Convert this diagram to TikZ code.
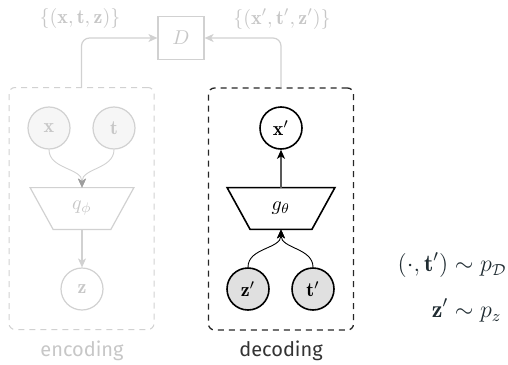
\documentclass[tikz,border=0pt]{standalone}
\usepackage{amsmath}
\usepackage{fontspec}
\newfontfamily\labelfont{Fira Sans}
\usetikzlibrary{arrows.meta,calc}
\definecolor{faded}{gray}{0.82}
\definecolor{fadedtext}{gray}{0.78}
\definecolor{fadedfill}{gray}{0.965}
\definecolor{fadedtip}{gray}{0.62}
\definecolor{latentfill}{gray}{0.88}
\definecolor{eqcolor}{RGB}{32,44,50}
\begin{document}
\begin{tikzpicture}[x=0.5pt,y=-0.5pt,
  tip/.style={-{Stealth[length=4.5pt,width=4pt,inset=1.2pt]}},
  varnode/.style={circle,minimum size=21pt,inner sep=0pt},
  stagebox/.style={rectangle,rounded corners=3pt,dashed,dash pattern=on 3pt off 2.5pt,minimum width=72.5pt,minimum height=121pt},
  netcore/.style={rectangle,inner sep=0pt,minimum height=20.5pt},
  caption/.style={font=\labelfont}]
\useasboundingbox (0,0) rectangle (508,364);

% discriminator and the two sets of triples
\node[draw=faded,line width=0.6pt,minimum width=23pt,minimum height=21.5pt,inner sep=0pt,text=fadedtext] (D) at (181,38) {$D$};
\node[text=fadedtext] (realset) at (80,19) {$\{(\mathbf{x},\mathbf{t},\mathbf{z})\}$};
\node[text=fadedtext] (fakeset) at (282,19) {$\{(\mathbf{x}',\mathbf{t}',\mathbf{z}')\}$};

% encoding stage (faded)
\node[stagebox,draw=faded,line width=0.5pt] (enc) at (81.5,208.5) {};
\node[varnode,draw=faded,fill=fadedfill,line width=0.6pt,text=fadedtext] (x) at (49,128) {$\mathbf{x}$};
\node[varnode,draw=faded,fill=fadedfill,line width=0.6pt,text=fadedtext] (t) at (114,128) {$\mathbf{t}$};
\node[netcore,minimum width=28.5pt,text=fadedtext] (q) at (82,208.5) {$q_\phi$};
\draw[faded,line width=0.6pt] (q.south west) -- (q.south east) -- ($(q.north east)+(23,0)$) -- ($(q.north west)+(-23,0)$) -- cycle;
\node[varnode,draw=faded,line width=0.6pt,text=fadedtext] (z) at (82,289) {$\mathbf{z}$};
\draw[faded,line width=0.45pt,-{Stealth[length=4.5pt,width=4pt,inset=1.2pt,color=fadedtip]}] (x.south) to[out=-90,in=90] (q.north);
\draw[faded,line width=0.45pt,-{Stealth[length=4.5pt,width=4pt,inset=1.2pt,color=fadedtip]}] (t.south) to[out=-90,in=90] (q.north);
\draw[faded,line width=0.6pt,-{Stealth[length=4.5pt,width=4pt,inset=1.2pt]}] (q.south) -- (z.north);
\node[caption,text=fadedtext] (enclabel) at (82,351) {encoding};

% decoding stage
\node[stagebox,draw=black!85,line width=0.65pt] (dec) at (281,209) {};
\node[varnode,draw=black,line width=0.8pt] (xp) at (281,128) {$\mathbf{x}'$};
\node[netcore,minimum width=30.5pt] (g) at (281,208.5) {$g_\theta$};
\draw[black,line width=0.8pt] (g.south west) -- (g.south east) -- ($(g.north east)+(23,0)$) -- ($(g.north west)+(-23,0)$) -- cycle;
\node[varnode,draw=black,fill=latentfill,line width=0.8pt] (zp) at (248,289) {$\mathbf{z}'$};
\node[varnode,draw=black,fill=latentfill,line width=0.8pt] (tp) at (313,289) {$\mathbf{t}'$};
\draw[black,line width=0.45pt,tip] (zp.north) to[out=90,in=-90] (g.south);
\draw[black,line width=0.45pt,tip] (tp.north) to[out=90,in=-90] (g.south);
\draw[black!65,line width=0.8pt,-{Stealth[length=4.5pt,width=4pt,inset=1.2pt,color=black]}] (g.north) -- (xp.south);
\node[caption,text=black!80] (declabel) at (281,351) {decoding};

% connectors up to the discriminator
\draw[faded,line width=0.6pt,rounded corners=4pt,-{Stealth[length=4.5pt,width=4pt,inset=1.2pt]}] (enc.north) |- (D.west);
\draw[faded,line width=0.6pt,rounded corners=4pt,-{Stealth[length=4.5pt,width=4pt,inset=1.2pt]}] (dec.north) |- (D.east);

% sampling of the decoder inputs
\node[text=eqcolor,anchor=east,font=\large,inner sep=0pt] (samples) at (507,289) {$\begin{aligned}(\cdot,\mathbf{t}') &\sim p_{\mathcal{D}}\\[6pt] \mathbf{z}' &\sim p_z\end{aligned}$};
\end{tikzpicture}
\end{document}
